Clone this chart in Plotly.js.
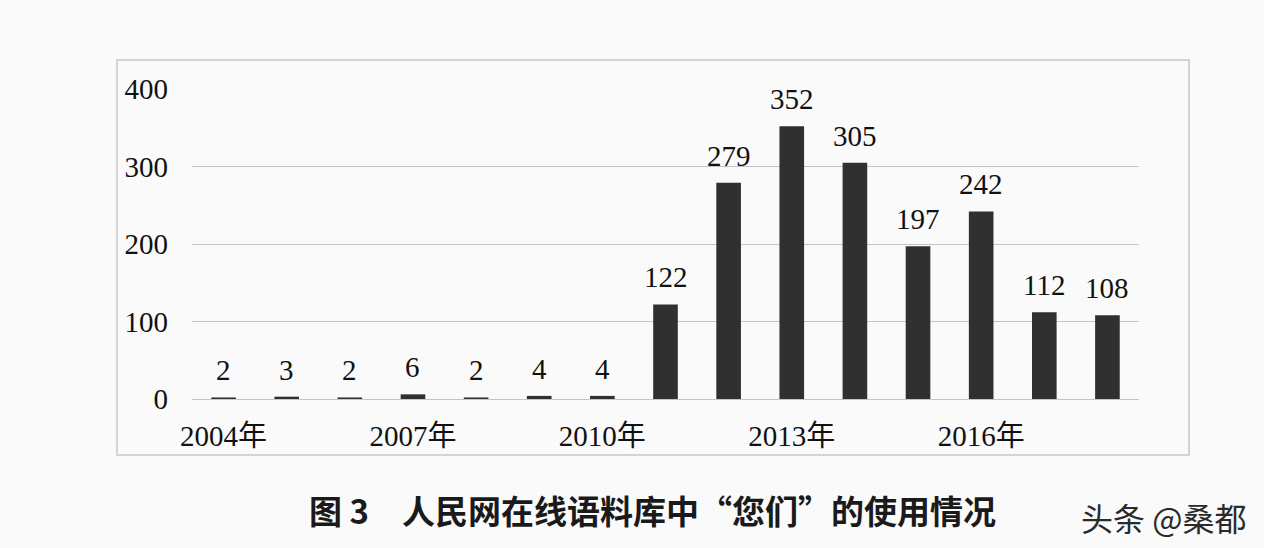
<!DOCTYPE html>
<html>
<head>
<meta charset="utf-8">
<script src="https://cdn.plot.ly/plotly-3.0.1.min.js"></script>
<style>html,body{margin:0;padding:0;background:#fafafa;}#chart{width:1264px;height:548px;}</style>
</head>
<body>
<div id="chart"></div>
<script>
const years = [2004, 2005, 2006, 2007, 2008, 2009, 2010, 2011, 2012, 2013, 2014, 2015, 2016, 2017, 2018];
const counts = [2, 3, 2, 6, 2, 4, 4, 122, 279, 352, 305, 197, 242, 112, 108];
const tickYears = [2004, 2007, 2010, 2013, 2016];
const tickLabels = ["2004年", "2007年", "2010年", "2013年", "2016年"];
const yTicks = [0, 100, 200, 300, 400];
const captionText = "图 3　人民网在线语料库中“您们”的使用情况";
const watermarkText = "头条 @桑都";

const serif = "Liberation Serif, Times New Roman, Noto Sans CJK SC, serif";
const sansCJK = "Noto Sans CJK SC, sans-serif";

const trace = {
  type: "bar",
  x: years,
  y: counts,
  marker: {color: "#303030", line: {width: 0}},
  width: 0.39,
  hoverinfo: "x+y"
};

const valueLabels = years.map((yr, i) => ({
  x: yr, y: counts[i], xref: "x", yref: "y",
  text: String(counts[i]), showarrow: false,
  yanchor: "bottom", yshift: 9,
  font: {family: serif, size: 29, color: "#111"}
}));

const layout = {
  width: 1264, height: 548,
  margin: {l: 192, r: 125, t: 89, b: 149},
  paper_bgcolor: "#fafafa",
  plot_bgcolor: "#fafafa",
  showlegend: false,
  xaxis: {
    range: [2003.5, 2018.5],
    tickvals: tickYears,
    ticktext: tickLabels,
    showgrid: false,
    zeroline: false,
    showline: false,
    ticks: "",
    ticklabelstandoff: 17,
    tickfont: {family: serif, size: 29, color: "#111"}
  },
  yaxis: {
    range: [0, 400],
    tickvals: yTicks,
    showgrid: true,
    gridcolor: "#c4c4c4",
    gridwidth: 1,
    zeroline: true,
    zerolinecolor: "#c4c4c4",
    zerolinewidth: 1,
    showline: false,
    ticks: "",
    ticklabelstandoff: 23,
    tickfont: {family: serif, size: 29, color: "#111"}
  },
  shapes: [{
    type: "rect", xref: "paper", yref: "paper",
    x0: -0.0792, x1: 1.0528, y0: -0.1806, y1: 1.0935,
    line: {color: "#c8c8c8", width: 1.5},
    fillcolor: "rgba(0,0,0,0)",
    layer: "below"
  }],
  annotations: valueLabels.concat([
    {
      xref: "paper", yref: "paper", x: 0.4868, y: -0.358,
      xanchor: "center", yanchor: "middle",
      text: "<b>" + captionText + "</b>", showarrow: false,
      font: {family: sansCJK, size: 33, color: "#1a1a1a"}
    },
    {
      xref: "paper", yref: "paper", x: 1.1151, y: -0.3806,
      xanchor: "right", yanchor: "middle",
      text: watermarkText, showarrow: false,
      font: {family: sansCJK, size: 32, color: "#2a2a2a"}
    }
  ])
};

Plotly.newPlot("chart", [trace], layout, {displayModeBar: false, staticPlot: true});
</script>
</body>
</html>
